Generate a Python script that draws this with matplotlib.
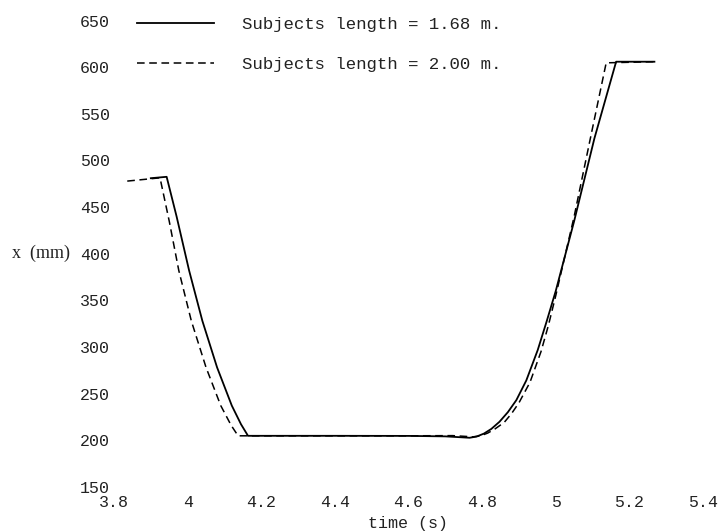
import matplotlib
matplotlib.use("Agg")
import matplotlib.pyplot as plt

# Subjects length = 1.68 m (solid)
t_168 = [3.900, 3.943, 3.970, 4.004, 4.040, 4.080, 4.120, 4.145, 4.164, 4.400, 4.600, 4.700,
         4.766, 4.785, 4.805, 4.825, 4.847, 4.870, 4.893, 4.920, 4.951, 4.975, 5.000,
         5.050, 5.105, 5.164, 5.268]
x_168 = [481.0, 482.5, 440.0, 382.0, 328.0, 278.0, 237.0, 217.0, 204.6, 204.6, 204.5, 204.0,
         202.5, 203.8, 207.0, 212.0, 219.6, 230.0, 242.9, 264.0, 296.6, 327.0, 360.0,
         435.0, 523.7, 606.0, 606.0]

# Subjects length = 2.00 m (dashed)
t_200 = [3.836, 3.925, 3.950, 3.976, 4.010, 4.050, 4.090, 4.118, 4.137, 4.400, 4.600, 4.720,
         4.775, 4.795, 4.815, 4.835, 4.860, 4.880, 4.900, 4.930, 4.960, 4.980, 5.000,
         5.050, 5.094, 5.137, 5.268]
x_200 = [477.9, 481.4, 435.0, 382.0, 328.0, 278.0, 237.0, 216.0, 204.6, 204.6, 204.6, 204.8,
         203.5, 204.5, 207.5, 212.0, 219.0, 228.5, 240.0, 262.0, 295.0, 323.0, 355.0,
         440.0, 523.7, 604.8, 606.0]

xticks = [3.8, 4.0, 4.2, 4.4, 4.6, 4.8, 5.0, 5.2, 5.4]
xticklabels = ["3.8", "4", "4.2", "4.4", "4.6", "4.8", "5", "5.2", "5.4"]
yticks = [150, 200, 250, 300, 350, 400, 450, 500, 550, 600, 650]
labels = ["Subjects length = 1.68 m.", "Subjects length = 2.00 m."]

mono = "Liberation Mono"
tcol = "#222222"

fig = plt.figure(figsize=(7.21, 5.31), dpi=100)
ax = fig.add_axes([114 / 721, 1 - 486.7 / 531, (703 - 114) / 721, (486.7 - 20.7) / 531])

ax.plot(t_168, x_168, color="black", lw=1.3, ls="-", label=labels[0])
ax.plot(t_200, x_200, color="black", lw=1.1, ls=(0, (5, 3)), label=labels[1])

ax.set_xlim(3.8, 5.4)
ax.set_ylim(150, 650)
ax.set_xticks(xticks)
ax.set_xticklabels(xticklabels, fontfamily=mono, fontsize=12, color=tcol)
ax.set_yticks(yticks)
ax.set_yticklabels([str(v) for v in yticks], fontfamily=mono, fontsize=12, color=tcol)
ax.tick_params(axis="both", length=0)
ax.tick_params(axis="x", pad=6)
ax.tick_params(axis="y", pad=3)
for s in ax.spines.values():
    s.set_visible(False)
ax.patch.set_alpha(0)

ax.set_xlabel("time (s)", fontfamily=mono, fontsize=12, labelpad=4, color=tcol)
fig.text(12 / 721, 1 - 253 / 531, "x  (mm)", fontfamily="Liberation Serif", fontsize=13,
         ha="left", va="center", color=tcol)

leg = ax.legend(loc="upper left", bbox_to_anchor=(0.0132, 1.0414), frameon=False,
                prop={"family": mono, "size": 12.5}, handlelength=4.43, handletextpad=1.6,
                labelspacing=1.4)
for txt in leg.get_texts():
    txt.set_color(tcol)

fig.savefig("out.png", dpi=100)
